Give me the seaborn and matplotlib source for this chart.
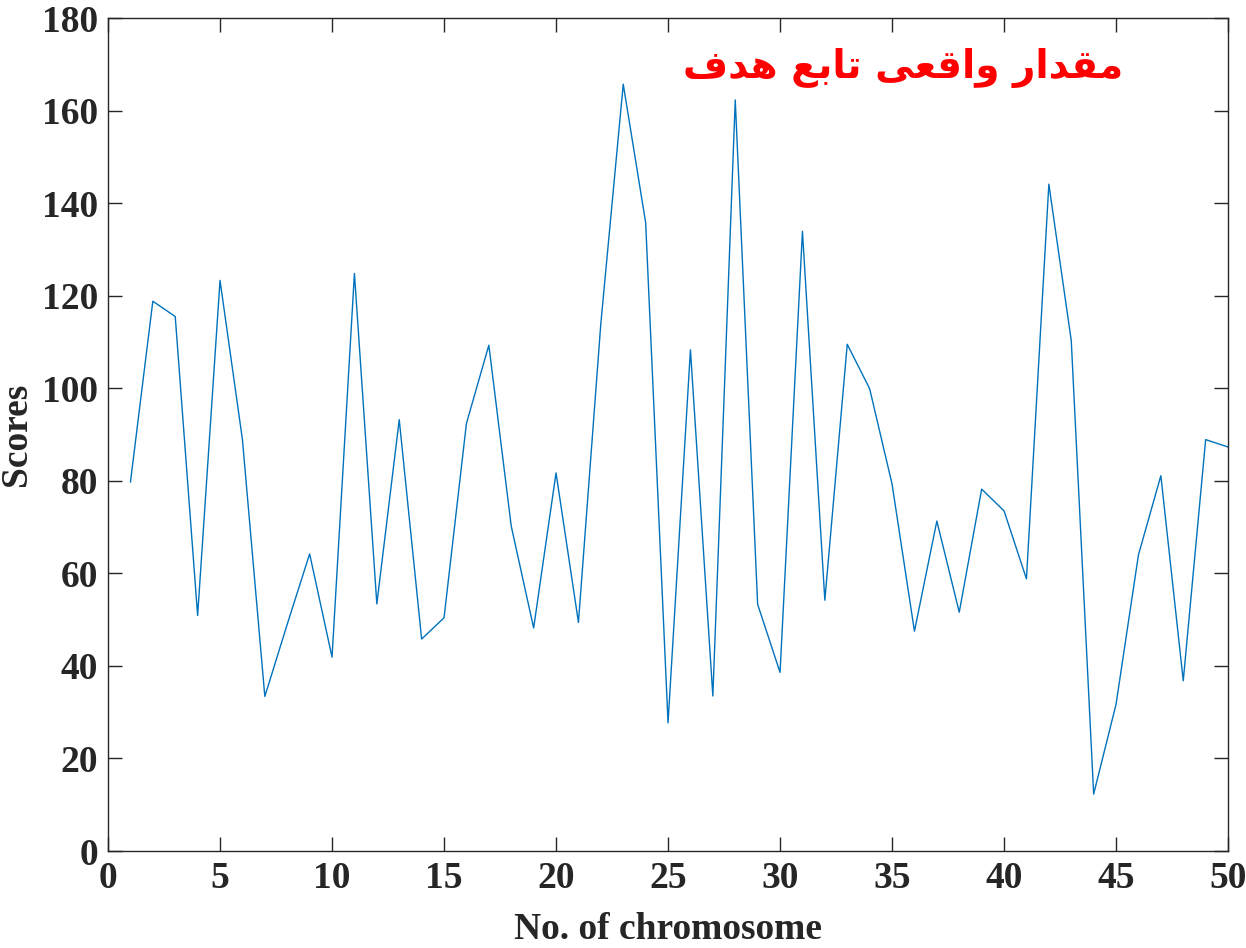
import numpy as np
import pandas as pd
import matplotlib
matplotlib.use("Agg")
import matplotlib.pyplot as plt
import seaborn as sns

# ---- data ----
chromosome = list(range(1, 51))
scores = [79.7, 118.8, 115.5, 50.9, 123.3, 88.9, 33.4, 49.0, 64.2, 41.9,
          124.8, 53.4, 93.2, 45.8, 50.4, 92.4, 109.3, 70.2, 48.2, 81.7,
          49.4, 114.0, 165.7, 135.8, 27.7, 108.3, 33.5, 162.3, 53.3, 38.6,
          133.9, 54.2, 109.5, 99.9, 79.3, 47.5, 71.3, 51.6, 78.2, 73.5,
          58.8, 144.1, 110.3, 12.3, 31.7, 64.0, 81.1, 36.8, 88.9, 87.3]
x_ticks = [0, 5, 10, 15, 20, 25, 30, 35, 40, 45, 50]
y_ticks = [0, 20, 40, 60, 80, 100, 120, 140, 160, 180]
x_label = "No. of chromosome"
y_label = "Scores"
# Persian title (logical order): مقدار واقعی تابع هدف
title_shaped = "\uFEE3\uFED8\uFEAA\uFE8D\uFEAD \uFEED\uFE8D\uFED7\uFECC\uFEF0 \uFE97\uFE8E\uFE91\uFECA \uFEEB\uFEAA\uFED1"

df = pd.DataFrame({"chromosome": chromosome, "score": scores})

sns.set_style("white")
plt.rcParams["font.family"] = ["Liberation Serif", "DejaVu Serif"]
plt.rcParams["font.weight"] = "bold"

fig = plt.figure(figsize=(12.46, 9.48), dpi=100)
ax = fig.add_axes([0.0867, 0.1023, 0.8989, 0.8787])

sns.lineplot(data=df, x="chromosome", y="score", ax=ax, color="#0072BD",
             linewidth=1.0)

ax.set_xlim(0, 50)
ax.set_ylim(0, 180)
ax.set_xticks(x_ticks)
ax.set_yticks(y_ticks)
ax.set_xticklabels([str(t) for t in x_ticks], fontsize=27, fontweight="bold", color="#262626")
ax.set_yticklabels([str(t) for t in y_ticks], fontsize=27, fontweight="bold", color="#262626")
ax.tick_params(direction="in", length=10, width=1.0, color="#262626",
               top=True, right=True, bottom=True, left=True, pad=7)
ax.set_xlabel(x_label, fontsize=27, fontweight="bold", color="#262626", labelpad=12)
ax.set_ylabel(y_label, fontsize=27, fontweight="bold", color="#262626", labelpad=6)
for s in ax.spines.values():
    s.set_visible(True)
    s.set_color("#262626")
    s.set_linewidth(1.0)

ax.text(0.7095, 0.94, title_shaped[::-1], transform=ax.transAxes,
        ha="center", va="center", fontsize=28, fontweight="bold",
        color="#FF0000", family=["DejaVu Sans"])

fig.savefig("out.png", dpi=100)
